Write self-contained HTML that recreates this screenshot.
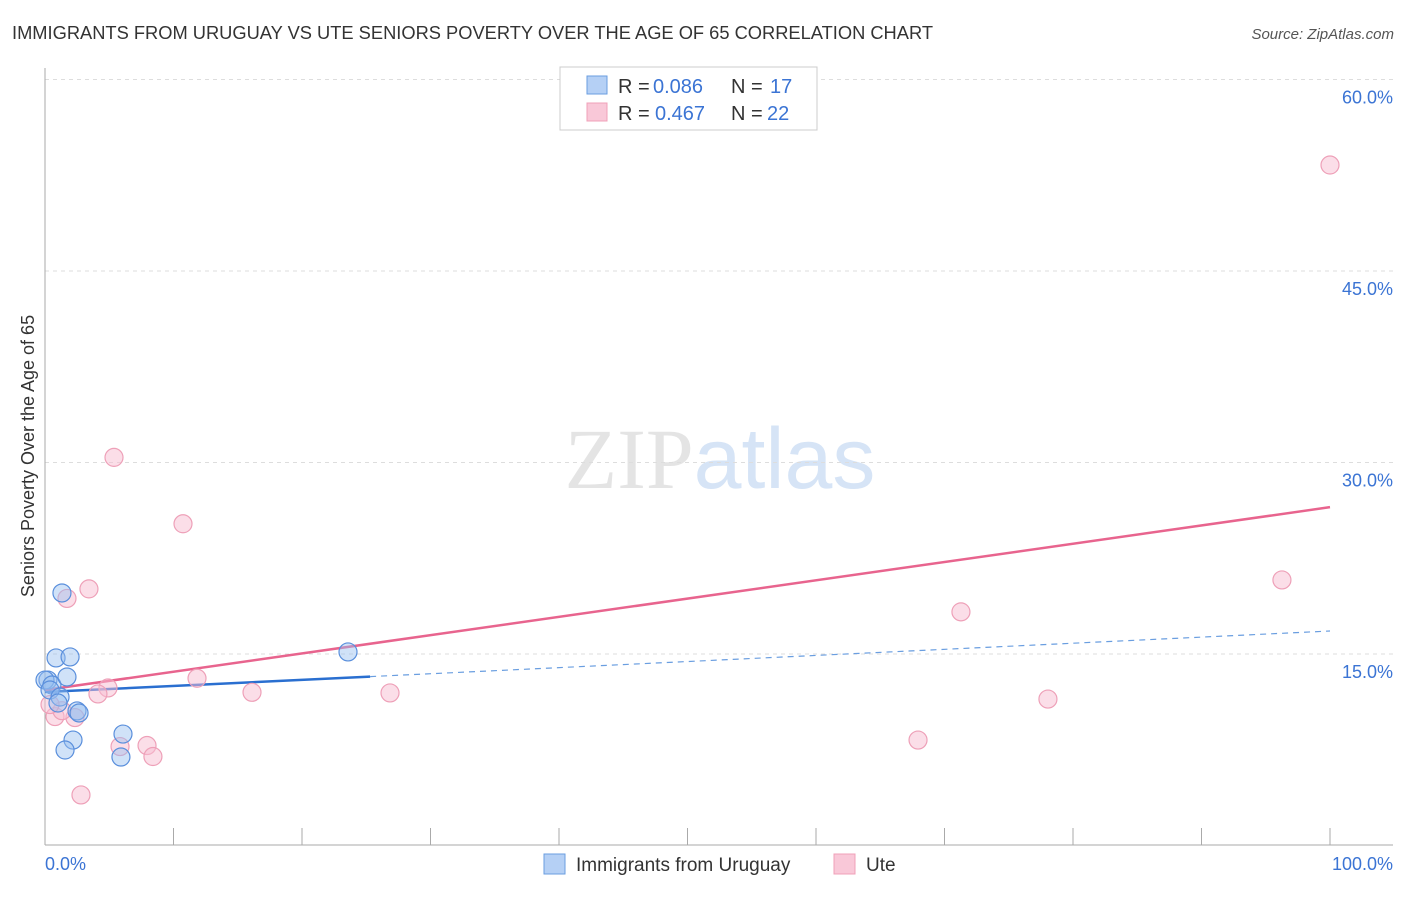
<!DOCTYPE html>
<html><head><meta charset="utf-8"><style>
body{margin:0;background:#fff;font-family:"Liberation Sans",sans-serif;}
svg text{font-family:"Liberation Sans",sans-serif;}
</style></head><body>
<svg id="c" width="1406" height="892" xmlns="http://www.w3.org/2000/svg">
<text x="12" y="39" font-size="18.3" fill="#333">IMMIGRANTS FROM URUGUAY VS UTE SENIORS POVERTY OVER THE AGE OF 65 CORRELATION CHART</text>
<text x="1394" y="39" font-size="15" fill="#555" text-anchor="end" font-style="italic">Source: ZipAtlas.com</text>
<text x="720" y="488" font-size="86" text-anchor="middle"><tspan fill="#e4e4e4" font-family="Liberation Serif">ZIP</tspan><tspan fill="#d6e4f6">atlas</tspan></text>
<g id="grid"></g><g id="axes"></g><g id="lines"></g><g id="pts"></g>
<text transform="translate(34,456) rotate(-90)" font-size="18" fill="#333" text-anchor="middle">Seniors Poverty Over the Age of 65</text>
<g>
<rect x="560" y="67" width="257" height="63" fill="#fff" stroke="#ccc"/>
<rect x="587" y="76" width="20" height="18" fill="#b5d0f5" stroke="#6a9ee0"/>
<rect x="587" y="103" width="20" height="18" fill="#f9c8d8" stroke="#f0a0b8"/>
<text x="618" y="93" font-size="20" fill="#333">R =</text><text x="653" y="93" font-size="20" fill="#3b74d4">0.086</text>
<text x="731" y="93" font-size="20" fill="#333">N =</text><text x="770" y="93" font-size="20" fill="#3b74d4">17</text>
<text x="618" y="120" font-size="20" fill="#333">R =</text><text x="655" y="120" font-size="20" fill="#3b74d4">0.467</text>
<text x="731" y="120" font-size="20" fill="#333">N =</text><text x="767" y="120" font-size="20" fill="#3b74d4">22</text>
</g>
<g>
<rect x="544" y="854" width="21" height="20" fill="#b5d0f5" stroke="#6a9ee0"/>
<text x="576" y="871" font-size="19" fill="#333">Immigrants from Uruguay</text>
<rect x="834" y="854" width="21" height="20" fill="#f9c8d8" stroke="#f0a0b8"/>
<text x="866" y="871" font-size="19" fill="#333">Ute</text>
</g>
</svg>
<script>
const blueX=[1.32,0.86,1.95,0.23,0,0.54,1.71,0.39,1.17,1.01,2.49,2.65,2.18,1.56,6.07,5.91,23.58];
const blueY=[19.78,14.69,14.77,12.96,12.96,12.57,13.2,12.18,11.63,11.16,10.54,10.38,8.26,7.48,8.73,6.93,15.16];
const pinkX=[100,5.37,10.74,3.42,1.71,96.26,71.28,11.83,16.11,26.85,4.9,4.12,78.05,0.78,2.33,5.84,7.94,8.4,67.94,2.8,1.32,0.39];
const pinkY=[53.3,30.4,25.2,20.1,19.35,20.8,18.3,13.1,12.0,11.95,12.34,11.87,11.47,10.1,10.02,7.75,7.83,6.97,8.26,3.96,10.56,11.04];
const blueTrend=[12.02,16.8]; const blueSolidEnd=25.3;
const pinkTrend=[12.18,26.5];
const yTicks=[15,30,45,60]; const yTickLabels=["15.0%","30.0%","45.0%","60.0%"];
const xTicks=[0,10,20,30,40,50,60,70,80,90,100];
const NS="http://www.w3.org/2000/svg";
const sx=v=>45+v*12.85, sy=v=>845.5-v*12.767;
function mk(p,t,a){const e=document.createElementNS(NS,t);for(const k in a)e.setAttribute(k,a[k]);document.getElementById(p).appendChild(e);return e;}
yTicks.forEach((t,i)=>{
 const l=mk('grid','line',{x1:45,x2:1393,y1:sy(t),y2:sy(t),stroke:'#ddd','stroke-dasharray':'4,4'});
 
 
 const tx=mk('grid','text',{x:1393,y:sy(t)+24,'font-size':18,fill:'#3b74d4','text-anchor':'end'});
 tx.textContent=yTickLabels[i];
 
 
});
let a=mk('axes','line',{x1:45,x2:45,y1:68,y2:845,stroke:'#aaa'});


a=mk('axes','line',{x1:45,x2:1393,y1:845,y2:845,stroke:'#aaa'});


xTicks.forEach(t=>{const l=mk('axes','line',{x1:sx(t),x2:sx(t),y1:828,y2:845,stroke:'#aaa'});
 
 });
let t=mk('axes','text',{x:45,y:870,'font-size':18,fill:'#3b74d4'});t.textContent='0.0%';


t=mk('axes','text',{x:1393,y:870,'font-size':18,fill:'#3b74d4','text-anchor':'end'});t.textContent='100.0%';


function pts(X,Y,fill,stroke,name){X.forEach((x,i)=>{const c=mk('pts','circle',{cx:sx(x),cy:sy(Y[i]),r:9,fill:fill,stroke:stroke,'stroke-width':1.2});
 
 });}
pts(pinkX,pinkY,'rgba(248,190,210,0.5)','#eea0b8','ute-point');
pts(blueX,blueY,'rgba(150,190,240,0.45)','#5a8fdc','uruguay-point');
const by=x=>blueTrend[0]+(blueTrend[1]-blueTrend[0])*x/100;
let l=mk('lines','line',{x1:sx(0),y1:sy(by(0)),x2:sx(blueSolidEnd),y2:sy(by(blueSolidEnd)),stroke:'#2a6fd0','stroke-width':2.5});


l=mk('lines','line',{x1:sx(blueSolidEnd),y1:sy(by(blueSolidEnd)),x2:sx(100),y2:sy(by(100)),stroke:'#6a9ee0','stroke-width':1.2,'stroke-dasharray':'6,5'});


l=mk('lines','line',{x1:sx(0),y1:sy(pinkTrend[0]),x2:sx(100),y2:sy(pinkTrend[1]),stroke:'#e8648e','stroke-width':2.5});


</script>
</body></html>
